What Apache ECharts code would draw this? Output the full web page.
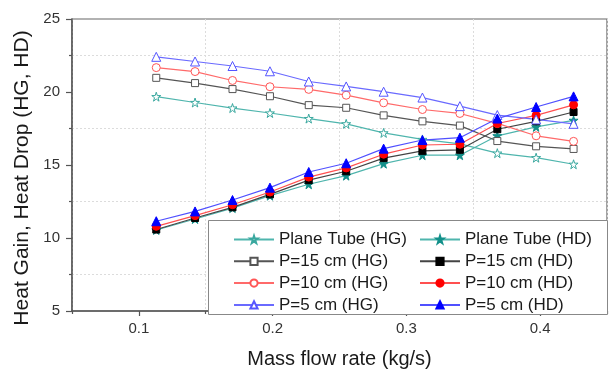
<!DOCTYPE html>
<html>
<head>
<meta charset="utf-8">
<script src="https://cdn.jsdelivr.net/npm/echarts@6/dist/echarts.min.js"></script>
<style>
html,body{margin:0;padding:0;background:#fff;}
#chart{width:611px;height:374px;}
</style>
</head>
<body>
<div id="chart"></div>
<script>
const massFlow = [0.113, 0.142, 0.170, 0.198, 0.227, 0.255, 0.283, 0.312, 0.340, 0.368, 0.397, 0.425];
const planeHG = [19.68, 19.28, 18.90, 18.56, 18.18, 17.82, 17.20, 16.75, 16.45, 15.81, 15.50, 15.05];
const p15HG   = [20.97, 20.61, 20.20, 19.71, 19.10, 18.92, 18.40, 17.99, 17.70, 16.64, 16.28, 16.10];
const p10HG   = [21.67, 21.40, 20.79, 20.36, 20.18, 19.78, 19.26, 18.80, 18.53, 17.85, 17.00, 16.62];
const p5HG    = [22.41, 22.09, 21.78, 21.42, 20.72, 20.38, 20.02, 19.62, 19.03, 18.42, 18.12, 17.82];
const planeHD = [10.55, 11.30, 12.05, 12.90, 13.68, 14.27, 15.09, 15.67, 15.67, 17.00, 17.61, 18.06];
const p15HD   = [10.58, 11.37, 12.10, 12.99, 13.96, 14.57, 15.47, 15.97, 16.04, 17.45, 17.99, 18.63];
const p10HD   = [10.80, 11.53, 12.28, 13.15, 14.17, 14.80, 15.74, 16.37, 16.42, 17.84, 18.40, 19.12];
const p5HD    = [11.15, 11.82, 12.60, 13.45, 14.52, 15.12, 16.12, 16.71, 16.87, 18.18, 18.97, 19.70];
const xTicks = [0.1, 0.2, 0.3, 0.4];
const namesHG = ['Plane Tube (HG)', 'P=15 cm (HG)', 'P=10 cm (HG)', 'P=5 cm (HG)'];
const namesHD = ['Plane Tube (HD)', 'P=15 cm (HD)', 'P=10 cm (HD)', 'P=5 cm (HD)'];

const FONT = 'Liberation Sans, Arial, sans-serif';
const STAR = 'path://M50,2 L61,36 L97,36 L68,57 L79,92 L50,71 L21,92 L32,57 L3,36 L39,36 Z';

function pts(ys){ return massFlow.map((x,i)=>[x, ys[i]]); }

function mk(name, ys, symbol, size, lineColor, fill, border){
  return {
    name: name, type: 'line', data: pts(ys),
    symbol: symbol, symbolSize: size,
    lineStyle: {color: lineColor, width: 1.2},
    itemStyle: {color: fill, borderColor: border, borderWidth: 1},
    emphasis: {disabled: true},
    animation: false
  };
}

const series = [
  mk(namesHG[0], planeHG, STAR, 9, '#4fb5ad', '#ffffff', '#3aa89f'),
  mk(namesHD[0], planeHD, STAR, 9, '#4fb5ad', '#12908a', '#12908a'),
  mk(namesHG[1], p15HG, 'rect', 7, '#555555', '#ffffff', '#555555'),
  mk(namesHD[1], p15HD, 'rect', 7, '#444444', '#000000', '#000000'),
  mk(namesHG[2], p10HG, 'circle', 8, '#ff6a6a', '#ffffff', '#ff5555'),
  mk(namesHD[2], p10HD, 'circle', 8, '#ff5050', '#ff0000', '#ff0000'),
  mk(namesHG[3], p5HG, 'triangle', 9, '#6a6aff', '#ffffff', '#5555ff'),
  mk(namesHD[3], p5HD, 'triangle', 9, '#5050ff', '#0000ff', '#0000ff')
];

const legendCommon = {
  orient: 'vertical', top: 231, padding: 0,
  itemWidth: 40, itemHeight: 9, itemGap: 4.8,
  textStyle: {fontSize: 17, color: '#1a1a1a', fontFamily: FONT},
  selectedMode: false, z: 10
};

const option = {
  backgroundColor: '#fff',
  animation: false,
  grid: {left: 72, right: 4, top: 19, bottom: 59, show: true, borderColor: '#666', borderWidth: 1.2, backgroundColor: 'transparent'},
  xAxis: [{
    type: 'value', min: 0.05, max: 0.45, interval: 0.05, position: 'bottom',
    axisLine: {show: true, onZero: false, lineStyle: {color: '#555', width: 1.5}},
    axisTick: {show: true, inside: false, length: 5, customValues: xTicks, lineStyle: {color: '#555', width: 1.2}},
    axisLabel: {customValues: xTicks, fontSize: 15, color: '#333', fontFamily: FONT, margin: 10,
      formatter: v => v.toFixed(1)},
    splitLine: {show: false},
    name: 'Mass flow rate (kg/s)', nameLocation: 'middle', nameGap: 38,
    nameTextStyle: {fontSize: 20, color: '#1a1a1a', fontFamily: FONT}
  }, {
    type: 'value', min: 0.05, max: 0.45, interval: 0.1, position: 'bottom',
    axisLine: {show: false},
    axisTick: {show: true, inside: false, length: 3, lineStyle: {color: '#555', width: 1.2}},
    axisLabel: {show: false},
    splitLine: {show: true, lineStyle: {color: '#dcdcdc', type: [2, 2], width: 1}}
  }],
  yAxis: {
    type: 'value', min: 5, max: 25, interval: 5,
    axisLine: {show: true, onZero: false, lineStyle: {color: '#555', width: 1.5}},
    axisTick: {show: true, inside: false, length: 6, lineStyle: {color: '#555', width: 1.2}},
    minorTick: {show: true, splitNumber: 2, length: 3, lineStyle: {color: '#555', width: 1.2}},
    minorSplitLine: {show: true, lineStyle: {color: '#dcdcdc', type: [2, 2], width: 1}},
    splitLine: {show: false},
    axisLabel: {fontSize: 15, color: '#333', fontFamily: FONT, margin: 12},
    name: 'Heat Gain, Heat Drop (HG, HD)', nameLocation: 'middle', nameGap: 37, nameRotate: 90,
    nameTextStyle: {fontSize: 21, color: '#1a1a1a', fontFamily: FONT, padding: [0, 26, 0, 0]}
  },
  legend: [
    Object.assign({}, legendCommon, {left: 233, data: namesHG}),
    Object.assign({}, legendCommon, {left: 419, data: namesHD})
  ],
  graphic: {elements: [{
    type: 'rect', left: 208, top: 220, z: 5,
    shape: {width: 399, height: 94},
    style: {fill: '#fff', stroke: '#888', lineWidth: 1}
  }]},
  series: series
};

const chart = echarts.init(document.getElementById('chart'), null, {renderer: 'canvas'});
chart.setOption(option);
</script>
</body>
</html>
